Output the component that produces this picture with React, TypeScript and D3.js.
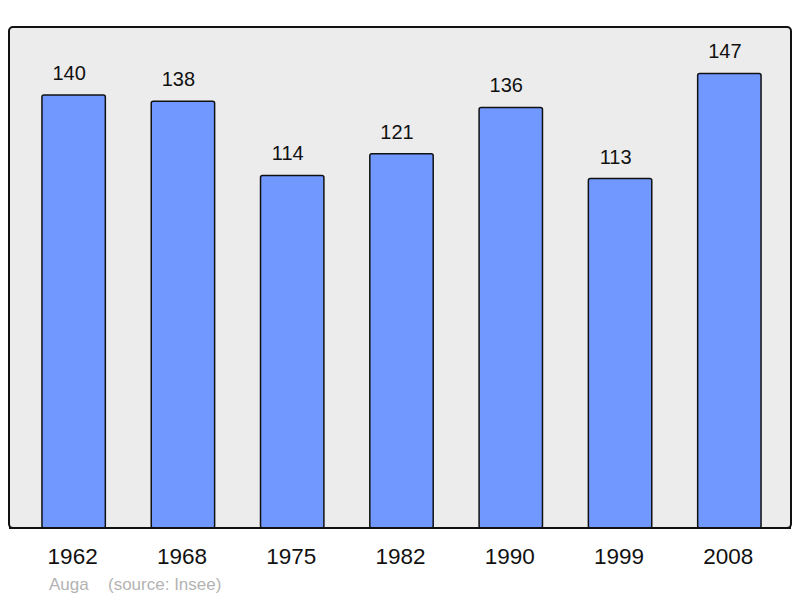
import React from "react";
import * as d3 from "d3";

// population by census year
const years = ["1962", "1968", "1975", "1982", "1990", "1999", "2008"];
const population = [140, 138, 114, 121, 136, 113, 147];
const townName = "Auga";
const sourceNote = "(source: Insee)";

const width = 800;
const height = 598;
const panel = { left: 9, top: 27, right: 791, bottom: 528 };

const App: React.FC = () => {
  const xScale = d3
    .scaleBand<string>()
    .domain(years)
    .range([19, 784])
    .paddingInner(0.42)
    .paddingOuter(0.21);

  const yScale = d3
    .scaleLinear()
    .domain([0, 162])
    .range([panel.bottom, panel.top]);

  const font = "Liberation Sans, Arial, sans-serif";

  return (
    <svg
      width={width}
      height={height}
      viewBox={`0 0 ${width} ${height}`}
      style={{ position: "absolute", left: 0, top: 0 }}
    >
      <rect width={width} height={height} fill="#ffffff" />
      <rect
        x={panel.left}
        y={panel.top}
        width={panel.right - panel.left}
        height={panel.bottom - panel.top}
        rx={4}
        ry={4}
        fill="#ececec"
        stroke="#111"
        strokeWidth={2}
      />
      {population.map((v, i) => {
        const x = xScale(years[i]) ?? 0;
        const y = yScale(v);
        return (
          <g key={years[i]}>
            <rect
              x={x}
              y={y}
              width={xScale.bandwidth()}
              height={yScale(0) - y}
              rx={2}
              ry={2}
              fill="#7098ff"
              stroke="#111"
              strokeWidth={1.5}
            />
            <text
              x={x + xScale.bandwidth() / 2 - 4.5}
              y={y - 15}
              textAnchor="middle"
              fontFamily={font}
              fontSize={20}
              fill="#111"
            >
              {v}
            </text>
          </g>
        );
      })}
      {/* redraw the bottom edge so it sits over the bars */}
      <line
        x1={panel.left}
        x2={panel.right}
        y1={panel.bottom}
        y2={panel.bottom}
        stroke="#111"
        strokeWidth={2}
      />
      {years.map((yr) => (
        <text
          key={yr}
          x={(xScale(yr) ?? 0) + xScale.bandwidth() / 2 - 1}
          y={564}
          textAnchor="middle"
          fontFamily={font}
          fontSize={22.5}
          fill="#111"
        >
          {yr}
        </text>
      ))}
      <text x={49} y={590} fontFamily={font} fontSize={17} fill="#b3b3b3">
        {townName}
      </text>
      <text x={108} y={590} fontFamily={font} fontSize={17} fill="#b3b3b3">
        {sourceNote}
      </text>
    </svg>
  );
};

export default App;
